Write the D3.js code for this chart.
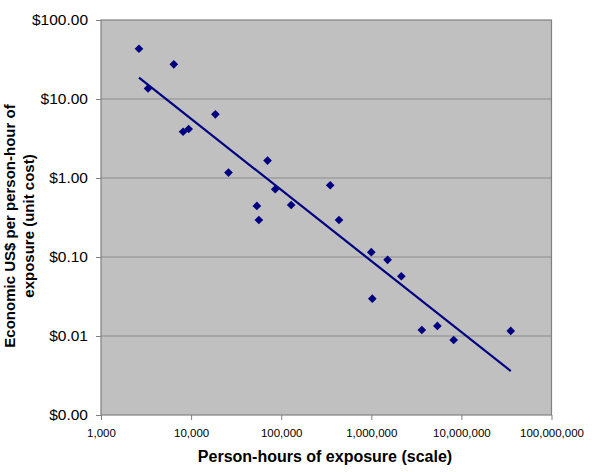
<!DOCTYPE html>
<html>
<head>
<meta charset="utf-8">
<script src="https://cdn.jsdelivr.net/npm/d3@7"></script>
<style>
  body { margin: 0; background: #fff; }
  svg { display: block; font-family: "Liberation Sans", Arial, sans-serif; }
</style>
</head>
<body>
<div id="wrapper"></div>
<script>
// person-hours of exposure (x) and unit cost in US$ (y)
const personHours = [
  2640, 6430, 3330, 18600, 8150, 9400, 26000, 70500, 85800, 53700, 56500,
  129000, 350000, 438000, 1000000, 1517000, 2154000, 1026000, 3640000,
  5410000, 8210000, 35300000
];
const unitCost = [
  43.3, 27.5, 13.6, 6.4, 3.85, 4.17, 1.17, 1.66, 0.72, 0.443, 0.294,
  0.455, 0.81, 0.294, 0.115, 0.092, 0.057, 0.0297, 0.0119,
  0.0134, 0.0089, 0.0116
];
// power trendline end points
const trendX = [2640, 35300000];
const trendY = [18.6, 0.0036];

const xTicks = [1e3, 1e4, 1e5, 1e6, 1e7, 1e8];
const yTicks = [100, 10, 1, 0.1, 0.01, 0.001];

const dimensions = {
  width: 600,
  height: 472,
  margin: { top: 20, right: 48.5, bottom: 57, left: 101 },
};
dimensions.boundedWidth =
  dimensions.width - dimensions.margin.left - dimensions.margin.right;
dimensions.boundedHeight =
  dimensions.height - dimensions.margin.top - dimensions.margin.bottom;

const wrapper = d3
  .select("#wrapper")
  .append("svg")
  .attr("width", dimensions.width)
  .attr("height", dimensions.height);

const bounds = wrapper
  .append("g")
  .attr("transform", `translate(${dimensions.margin.left},${dimensions.margin.top})`);

const xScale = d3
  .scaleLog()
  .domain([1e3, 1e8])
  .range([0, dimensions.boundedWidth]);

const yScale = d3
  .scaleLog()
  .domain([0.001, 100])
  .range([dimensions.boundedHeight, 0]);

// plot background
bounds
  .append("rect")
  .attr("width", dimensions.boundedWidth)
  .attr("height", dimensions.boundedHeight)
  .attr("fill", "#c0c0c0");

// horizontal gridlines
bounds
  .append("g")
  .selectAll("line")
  .data(yTicks.slice(1, -1))
  .join("line")
  .attr("x1", 0)
  .attr("x2", dimensions.boundedWidth)
  .attr("y1", (d) => yScale(d))
  .attr("y2", (d) => yScale(d))
  .attr("stroke", "#8c8c8c")
  .attr("stroke-width", 1);

bounds
  .append("rect")
  .attr("width", dimensions.boundedWidth)
  .attr("height", dimensions.boundedHeight)
  .attr("fill", "none")
  .attr("stroke", "#808080")
  .attr("stroke-width", 1.2);

// axes
const fmtMoney = (d) => "$" + d3.format(".2f")(d);
const yAxis = bounds
  .append("g")
  .call(
    d3.axisLeft(yScale).tickValues(yTicks).tickFormat(fmtMoney)
      .tickSize(5).tickPadding(8)
  );
const xAxis = bounds
  .append("g")
  .attr("transform", `translate(0,${dimensions.boundedHeight})`)
  .call(
    d3.axisBottom(xScale).tickValues(xTicks).tickFormat(d3.format(","))
      .tickSize(5).tickPadding(9)
  );

[xAxis, yAxis].forEach((axis) => {
  axis.select(".domain").remove();
  axis.selectAll(".tick line").attr("stroke", "#808080");
  axis.selectAll("text").attr("fill", "#000").attr("font-family", "Liberation Sans, Arial, sans-serif");
});
yAxis.attr("font-size", 15.5);
xAxis.attr("font-size", 11.5);

// trendline
const trendData = trendX.map((x, i) => [x, trendY[i]]);
bounds
  .append("path")
  .datum(trendData)
  .attr("d", d3.line().x((d) => xScale(d[0])).y((d) => yScale(d[1])))
  .attr("fill", "none")
  .attr("stroke", "#000080")
  .attr("stroke-width", 2.2);

// data points (diamonds)
const points = personHours.map((x, i) => [x, unitCost[i]]);
const diamond = d3.symbol().type(d3.symbolDiamond2).size(48);
bounds
  .append("g")
  .selectAll("path")
  .data(points)
  .join("path")
  .attr("transform", (d) => `translate(${xScale(d[0])},${yScale(d[1])})`)
  .attr("d", diamond)
  .attr("fill", "#000080");

// axis titles
wrapper
  .append("text")
  .attr("x", 325)
  .attr("y", 462)
  .attr("text-anchor", "middle")
  .style("font-size", "16px")
  .style("font-weight", "bold")
  .text("Person-hours of exposure (scale)");

const yTitle = wrapper
  .append("text")
  .attr("transform", "translate(0,226) rotate(-90)")
  .attr("text-anchor", "middle")
  .style("font-size", "15px")
  .style("font-weight", "bold");
yTitle.append("tspan").attr("x", 0).attr("y", 15).text("Economic US$ per person-hour of");
yTitle.append("tspan").attr("x", 0).attr("y", 33.5).text("exposure (unit cost)");
</script>
</body>
</html>
